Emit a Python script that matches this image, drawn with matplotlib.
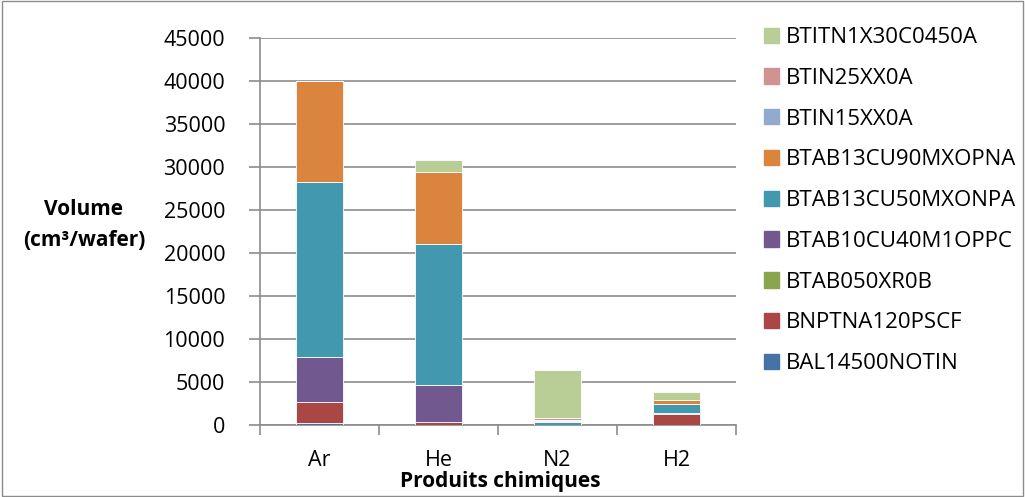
import matplotlib.pyplot as plt
import numpy as np
from matplotlib.patches import Rectangle, Patch

plt.rcParams['font.family'] = ['Open Sans', 'DejaVu Sans']

categories = ['Ar', 'He', 'N2', 'H2']
series_names = ['BAL14500NOTIN', 'BNPTNA120PSCF', 'BTAB050XR0B', 'BTAB10CU40M1OPPC',
                'BTAB13CU50MXONPA', 'BTAB13CU90MXOPNA', 'BTIN15XX0A', 'BTIN25XX0A',
                'BTITN1X30C0450A']
bal14500 = [200, 0, 0, 0]
bnptna120 = [2500, 400, 0, 1250]
btab050 = [0, 0, 0, 0]
btab10cu40 = [5200, 4200, 0, 200]
btab13cu50 = [20400, 16400, 300, 1000]
btab13cu90 = [11700, 8400, 200, 450]
btin15 = [0, 0, 100, 0]
btin25 = [0, 0, 200, 0]
btitn1x30 = [0, 1400, 5600, 950]
series = [bal14500, bnptna120, btab050, btab10cu40, btab13cu50, btab13cu90,
          btin15, btin25, btitn1x30]
colors = ['#4572A7', '#AA4643', '#89A54E', '#71588F', '#4198AF', '#DB843D',
          '#93A9CF', '#D19392', '#B9CD96']

fig = plt.figure(figsize=(10.25, 4.97), dpi=100)
ax = fig.add_axes([260 / 1025, 1 - 425 / 497, 476 / 1025, 387 / 497])

x = np.arange(len(categories))
bottom = np.zeros(len(categories))
for name, vals, c in zip(series_names, series, colors):
    ax.bar(x, vals, 0.4, bottom=bottom, color=c, edgecolor='white', linewidth=0.6,
           label=name, zorder=3)
    bottom += np.array(vals)

ax.set_xlim(-0.5, 3.5)
ax.set_ylim(0, 45000)
ax.set_yticks(np.arange(0, 45001, 5000))
ax.yaxis.grid(True, color='#8c8c8c', linewidth=1.2, zorder=0)
ax.set_xticks(x)
ax.set_xticklabels(categories)
ax.set_xticks(np.arange(-0.5, 3.6, 1), minor=True)
ax.tick_params(axis='x', which='major', length=0, labelsize=15.5, pad=18)
ax.tick_params(axis='x', which='minor', length=7, color='#8c8c8c', width=1.2)
ax.tick_params(axis='y', length=8, color='#8c8c8c', width=1.2, labelsize=15.5, pad=17)
for s in ['top', 'right']:
    ax.spines[s].set_visible(False)
for s in ['left', 'bottom']:
    ax.spines[s].set_color('#8c8c8c')
    ax.spines[s].set_linewidth(1.2)

fig.text(500 / 1025, 1 - 482 / 497, 'Produits chimiques', ha='center', va='center',
         fontsize=15, fontweight='bold')
fig.text(84 / 1025, 1 - 225 / 497, 'Volume\n(cm\u00b3/wafer)', ha='center', va='center',
         fontsize=15, fontweight='bold', linespacing=1.6)

handles = [Patch(color=c) for c in colors][::-1]
leg = fig.legend(handles, series_names[::-1], loc='upper left',
                 bbox_to_anchor=(764 / 1025, 1 - 27 / 497), frameon=False,
                 borderpad=0, borderaxespad=0,
                 fontsize=16, handlelength=0.68, handleheight=0.68,
                 handletextpad=0.3, labelspacing=0.89)

fig.patches.append(Rectangle((0.002, 0.002), 0.996, 0.996, transform=fig.transFigure,
                             fill=False, edgecolor='#8c8c8c', linewidth=1))

fig.savefig('out.png', dpi=100)
